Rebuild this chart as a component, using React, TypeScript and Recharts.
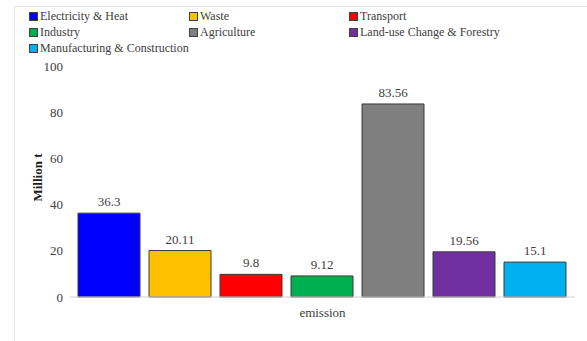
import React from "react";
import { BarChart, Bar, XAxis, YAxis, LabelList } from "recharts";

const categories = ["emission"];
const seriesNames = [
  "Electricity & Heat",
  "Waste",
  "Transport",
  "Industry",
  "Agriculture",
  "Land-use Change & Forestry",
  "Manufacturing & Construction",
];
const seriesValues = [36.3, 20.11, 9.8, 9.12, 83.56, 19.56, 15.1];
const seriesColors = [
  "#0000FF",
  "#FFC000",
  "#FF0000",
  "#00B050",
  "#7F7F7F",
  "#7030A0",
  "#00B0F0",
];
const yTicks = [0, 20, 40, 60, 80, 100];

const keys = seriesNames.map((_, i) => `s${i}`);
const data = categories.map((name) => {
  const row: Record<string, string | number> = { name };
  keys.forEach((k, i) => {
    row[k] = seriesValues[i];
  });
  return row;
});

const FONT = "'Liberation Serif', serif";
const TEXT = "#404040";
const legendCols = [29, 189, 349];
const legendRows = [16, 32, 48];

// Pin the serif face on SVG text so no inherited rule can replace it.
const serifRef = (el: SVGTextElement | null) => {
  if (el) el.style.setProperty("font-family", FONT, "important");
};

const YTick = (props: any) => {
  const { x, y, payload } = props;
  return (
    <text
      ref={serifRef}
      x={x}
      y={y}
      dy={4.5}
      textAnchor="end"
      fontFamily="Liberation Serif"
      style={{ fontFamily: FONT, fontSize: 13, fill: TEXT }}
    >
      {payload.value}
    </text>
  );
};

const XTick = (props: any) => {
  const { x, y, payload } = props;
  return (
    <text
      ref={serifRef}
      x={x}
      y={y}
      dy={12}
      textAnchor="middle"
      fontFamily="Liberation Serif"
      style={{ fontFamily: FONT, fontSize: 13, fill: TEXT }}
    >
      {payload.value}
    </text>
  );
};

const ValueLabel = (props: any) => {
  const { x, y, width, value } = props;
  return (
    <text
      ref={serifRef}
      x={x + width / 2}
      y={y - 7}
      textAnchor="middle"
      fontFamily="Liberation Serif"
      style={{ fontFamily: FONT, fontSize: 13, fill: TEXT }}
    >
      {value}
    </text>
  );
};

const YTitle = (props: any) => {
  const { viewBox } = props;
  const cx = 37;
  const cy = viewBox.y + viewBox.height / 2 - 4;
  return (
    <text
      ref={serifRef}
      x={cx}
      y={cy}
      transform={`rotate(-90, ${cx}, ${cy})`}
      textAnchor="middle"
      dominantBaseline="central"
      fontFamily="Liberation Serif"
      style={{ fontFamily: FONT, fontSize: 13, fontWeight: "bold", fill: "#1a1a1a" }}
    >
      Million t
    </text>
  );
};

export default function App() {
  return (
    <div
      style={{
        position: "absolute",
        left: 0,
        top: 0,
        width: 587,
        height: 341,
        background: "#fff",
        fontFamily: FONT,
      }}
    >
      <style>{`#root svg text, #root svg tspan, #root .recharts-wrapper svg.recharts-surface text { font-family: 'Liberation Serif', serif !important; }`}</style>
      <div
        style={{
          position: "absolute",
          left: 14,
          top: 6,
          width: 573,
          height: 335,
          borderTop: "1px solid #e4e4e4",
          borderLeft: "1px solid #e4e4e4",
        }}
      />
      {seriesNames.map((n, i) => (
        <div
          key={n}
          style={{
            position: "absolute",
            left: legendCols[i % 3],
            top: legendRows[Math.floor(i / 3)] - 8,
            height: 16,
            display: "flex",
            alignItems: "center",
            fontSize: 12,
            fontFamily: FONT,
            color: TEXT,
            whiteSpace: "nowrap",
          }}
        >
          <span
            style={{
              display: "inline-block",
              width: 7,
              height: 7,
              background: seriesColors[i],
              border: "1px solid #404040",
              marginRight: 2,
            }}
          />
          {n}
        </div>
      ))}
      <BarChart
        width={587}
        height={341}
        data={data}
        margin={{ top: 66, right: 12, bottom: 14, left: 20 }}
        barCategoryGap={8}
        barGap={9}
        style={{ position: "absolute", left: 0, top: 0, fontFamily: FONT }}
      >
        <XAxis
          dataKey="name"
          axisLine={{ stroke: "#d0d0d0" }}
          tickLine={false}
          height={30}
          tick={<XTick />}
          tickMargin={2}
        />
        <YAxis
          domain={[0, 100]}
          ticks={yTicks}
          width={50}
          axisLine={false}
          tickLine={false}
          tickSize={5}
          tickMargin={2}
          tick={<YTick />}
          label={<YTitle />}
        />
        {keys.map((k, i) => (
          <Bar
            key={k}
            dataKey={k}
            name={seriesNames[i]}
            fill={seriesColors[i]}
            stroke="#3a3a3a"
            strokeWidth={1}
            isAnimationActive={false}
          >
            <LabelList dataKey={k} content={<ValueLabel />} />
          </Bar>
        ))}
      </BarChart>
    </div>
  );
}
